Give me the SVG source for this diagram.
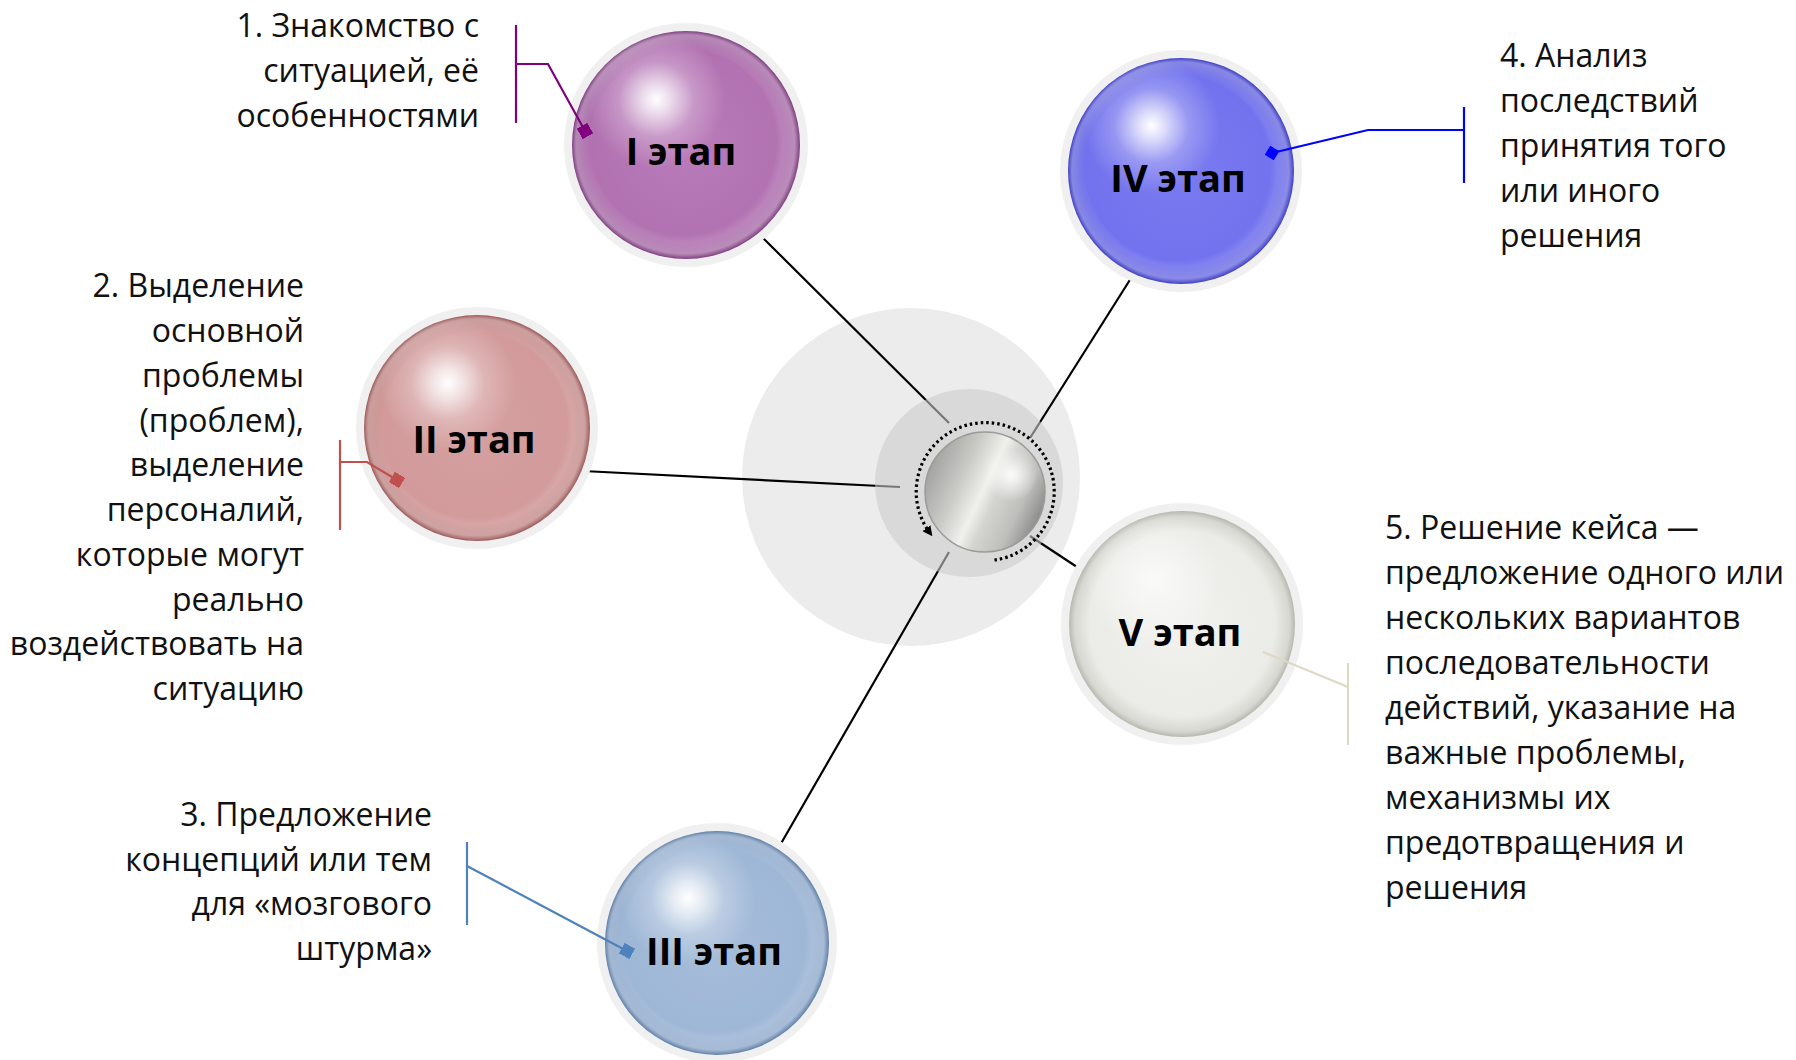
<svg xmlns="http://www.w3.org/2000/svg" width="1796" height="1060" viewBox="0 0 1796 1060">
<style>
.t{font-family:"Open Sans","Liberation Sans",sans-serif;font-size:32px;fill:#111}
.e{text-anchor:end}
.lbl{font-family:"Open Sans","Liberation Sans",sans-serif;font-size:38px;font-weight:bold;fill:#000;text-anchor:middle}
.halo{fill:#f0f0f0}
.conn{stroke:#000;stroke-width:2.2;fill:none}
.co{fill:none;stroke-width:2.2}
</style>
<defs>
<radialGradient id="gI" cx="0.5" cy="0.5" r="0.5">
<stop offset="0" stop-color="#b97bb9"/><stop offset="0.85" stop-color="#b272b2"/><stop offset="0.95" stop-color="#9c5c9c"/><stop offset="1" stop-color="#7e3f80"/>
</radialGradient>
<radialGradient id="gII" cx="0.5" cy="0.5" r="0.5">
<stop offset="0" stop-color="#d6a0a0"/><stop offset="0.85" stop-color="#d29a9a"/><stop offset="0.95" stop-color="#bb7c7c"/><stop offset="1" stop-color="#9c5a5a"/>
</radialGradient>
<radialGradient id="gIII" cx="0.5" cy="0.5" r="0.5">
<stop offset="0" stop-color="#a6bdda"/><stop offset="0.85" stop-color="#9eb7d6"/><stop offset="0.95" stop-color="#829fc4"/><stop offset="1" stop-color="#5f7fa8"/>
</radialGradient>
<radialGradient id="gIV" cx="0.5" cy="0.5" r="0.5">
<stop offset="0" stop-color="#7a7af0"/><stop offset="0.85" stop-color="#7272ee"/><stop offset="0.95" stop-color="#5a5ade"/><stop offset="1" stop-color="#3f3fc4"/>
</radialGradient>
<radialGradient id="gV" cx="0.5" cy="0.5" r="0.5">
<stop offset="0" stop-color="#f1f1ee"/><stop offset="0.82" stop-color="#ebebe7"/><stop offset="0.95" stop-color="#d8d8d2"/><stop offset="1" stop-color="#b8b8b0"/>
</radialGradient>
<radialGradient id="hl" cx="0.37" cy="0.3" r="0.3">
<stop offset="0" stop-color="#ffffff" stop-opacity="1"/><stop offset="0.2" stop-color="#ffffff" stop-opacity="0.75"/><stop offset="0.55" stop-color="#ffffff" stop-opacity="0.25"/><stop offset="1" stop-color="#ffffff" stop-opacity="0"/>
</radialGradient>
<radialGradient id="hlV" cx="0.37" cy="0.3" r="0.3">
<stop offset="0" stop-color="#ffffff" stop-opacity="0.7"/><stop offset="1" stop-color="#ffffff" stop-opacity="0"/>
</radialGradient>
<radialGradient id="rim" cx="0.5" cy="0.5" r="0.5" fx="0.42" fy="0.42">
<stop offset="0.82" stop-color="#ffffff" stop-opacity="0"/><stop offset="0.96" stop-color="#ffffff" stop-opacity="0.3"/><stop offset="1" stop-color="#ffffff" stop-opacity="0"/>
</radialGradient>
<linearGradient id="gC" x1="0.05" y1="0.29" x2="0.95" y2="0.71">
<stop offset="0" stop-color="#a4a4a2"/><stop offset="0.28" stop-color="#cbcbc8"/><stop offset="0.48" stop-color="#f0f0ec"/><stop offset="0.6" stop-color="#d4d4d0"/><stop offset="0.82" stop-color="#bebebb"/><stop offset="1" stop-color="#8e8e8e"/>
</linearGradient>
<radialGradient id="gCh" cx="0.72" cy="0.36" r="0.22">
<stop offset="0" stop-color="#ffffff" stop-opacity="0.95"/><stop offset="1" stop-color="#ffffff" stop-opacity="0"/>
</radialGradient>
<marker id="arr" viewBox="0 0 10 10" refX="6" refY="5" markerWidth="10" markerHeight="10" markerUnits="userSpaceOnUse" orient="auto">
<path d="M0,0 L10,5 L0,10 z" fill="#000"/>
</marker>
<marker id="sqP" viewBox="0 0 10 10" refX="5" refY="5" markerWidth="12" markerHeight="12" markerUnits="userSpaceOnUse" orient="auto"><rect width="10" height="10" fill="#800080"/></marker>
<marker id="sqR" viewBox="0 0 10 10" refX="5" refY="5" markerWidth="12" markerHeight="12" markerUnits="userSpaceOnUse" orient="auto"><rect width="10" height="10" fill="#c0504d"/></marker>
<marker id="sqB" viewBox="0 0 10 10" refX="5" refY="5" markerWidth="12" markerHeight="12" markerUnits="userSpaceOnUse" orient="auto"><rect width="10" height="10" fill="#4f81bd"/></marker>
<marker id="dmB" viewBox="0 0 10 10" refX="5" refY="5" markerWidth="15" markerHeight="15" markerUnits="userSpaceOnUse" orient="auto"><path d="M5,0 L10,5 L5,10 L0,5 z" fill="#0000ff"/></marker>
</defs>

<g id="hub-bg">
<circle cx="911" cy="477" r="169" fill="#ececec"/>
</g>

<g id="connectors">
<line class="conn" x1="758" y1="233" x2="949" y2="423"/>
<line class="conn" x1="583" y1="471" x2="900" y2="487"/>
<line class="conn" x1="1133" y1="275" x2="1030" y2="438"/>
<line class="conn" x1="779" y1="847" x2="949" y2="552"/>
<line class="conn" x1="1030" y1="536" x2="1077" y2="567"/>
</g>

<g id="hub">
<circle cx="969" cy="483" r="94" fill="#cbcbcb" fill-opacity="0.585"/>
<circle cx="985" cy="492" r="60" fill="url(#gC)" stroke="#9a9a98" stroke-width="1.5"/>
<circle cx="985" cy="492" r="60" fill="url(#gCh)"/>
<path d="M994.5,560 A69,69 0 1 0 930,533" fill="none" stroke="#000" stroke-width="3.2" stroke-dasharray="2.5 3" marker-end="url(#arr)"/>
</g>

<g id="node-1">
<circle class="halo" cx="686" cy="145" r="122"/>
<circle cx="686" cy="145" r="114" fill="url(#gI)"/>
<circle cx="686" cy="145" r="114" fill="url(#hl)"/>
<circle cx="686" cy="145" r="114" fill="url(#rim)"/>
<text class="lbl" x="681" y="165">I этап</text>
</g>
<g id="node-2">
<circle class="halo" cx="477" cy="428" r="121"/>
<circle cx="477" cy="428" r="113" fill="url(#gII)"/>
<circle cx="477" cy="428" r="113" fill="url(#hl)"/>
<circle cx="477" cy="428" r="113" fill="url(#rim)"/>
<text class="lbl" x="474" y="453">II этап</text>
</g>
<g id="node-3">
<circle class="halo" cx="717" cy="943" r="120"/>
<circle cx="717" cy="943" r="112" fill="url(#gIII)"/>
<circle cx="717" cy="943" r="112" fill="url(#hl)"/>
<circle cx="717" cy="943" r="112" fill="url(#rim)"/>
<text class="lbl" x="714" y="965">III этап</text>
</g>
<g id="node-4">
<circle class="halo" cx="1181" cy="171" r="121"/>
<circle cx="1181" cy="171" r="113" fill="url(#gIV)"/>
<circle cx="1181" cy="171" r="113" fill="url(#hl)"/>
<circle cx="1181" cy="171" r="113" fill="url(#rim)"/>
<text class="lbl" x="1178" y="192">IV этап</text>
</g>
<g id="node-5">
<circle class="halo" cx="1182" cy="624" r="121"/>
<circle cx="1182" cy="624" r="113" fill="url(#gV)"/>
<circle cx="1182" cy="624" r="113" fill="url(#hlV)"/>
<text class="lbl" x="1180" y="646">V этап</text>
</g>

<g id="callouts">
<path class="co" stroke="#800080" d="M516,25 V123"/>
<path class="co" stroke="#800080" d="M516,64 H548 L585,131" marker-end="url(#sqP)"/>
<path class="co" stroke="#c0504d" d="M340,440 V530"/>
<path class="co" stroke="#c0504d" d="M340,462 H367 L397,480" marker-end="url(#sqR)"/>
<path class="co" stroke="#4f81bd" d="M467,842 V925"/>
<path class="co" stroke="#4f81bd" d="M467,866 L627,951" marker-end="url(#sqB)"/>
<path class="co" stroke="#0000ff" d="M1464,107 V183"/>
<path class="co" stroke="#0000ff" d="M1464,130 H1368 L1272,153" marker-end="url(#dmB)"/>
<path class="co" stroke="#ddd9c3" d="M1348,663 V745"/>
<path class="co" stroke="#ddd9c3" d="M1348,687 L1263,652"/>
</g>

<g id="text-1">
<text class="t e" x="479" y="37">1. Знакомство с</text>
<text class="t e" x="479" y="82">ситуацией, её</text>
<text class="t e" x="479" y="127">особенностями</text>
</g>
<g id="text-2">
<text class="t e" x="304" y="297">2. Выделение</text>
<text class="t e" x="304" y="342">основной</text>
<text class="t e" x="304" y="387">проблемы</text>
<text class="t e" x="304" y="432">(проблем),</text>
<text class="t e" x="304" y="476">выделение</text>
<text class="t e" x="304" y="521">персоналий,</text>
<text class="t e" x="304" y="566">которые могут</text>
<text class="t e" x="304" y="611">реально</text>
<text class="t e" x="304" y="655">воздействовать на</text>
<text class="t e" x="304" y="700">ситуацию</text>
</g>
<g id="text-3">
<text class="t e" x="432" y="826">3. Предложение</text>
<text class="t e" x="432" y="871">концепций или тем</text>
<text class="t e" x="432" y="915">для «мозгового</text>
<text class="t e" x="432" y="960">штурма»</text>
</g>
<g id="text-4">
<text class="t" x="1500" y="67">4. Анализ</text>
<text class="t" x="1500" y="112">последствий</text>
<text class="t" x="1500" y="157">принятия того</text>
<text class="t" x="1500" y="202">или иного</text>
<text class="t" x="1500" y="247">решения</text>
</g>
<g id="text-5">
<text class="t" x="1385" y="539">5. Решение кейса —</text>
<text class="t" x="1385" y="584">предложение одного или</text>
<text class="t" x="1385" y="629">нескольких вариантов</text>
<text class="t" x="1385" y="674">последовательности</text>
<text class="t" x="1385" y="719">действий, указание на</text>
<text class="t" x="1385" y="764">важные проблемы,</text>
<text class="t" x="1385" y="809">механизмы их</text>
<text class="t" x="1385" y="854">предотвращения и</text>
<text class="t" x="1385" y="899">решения</text>
</g>
</svg>
